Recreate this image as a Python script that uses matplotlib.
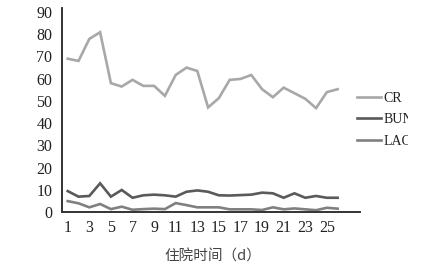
import matplotlib
matplotlib.use("Agg")
import matplotlib.pyplot as plt
from matplotlib.patches import Rectangle

days = list(range(1, 27))
cr = [68.9, 67.9, 77.8, 80.8, 57.9, 56.4, 59.4, 56.7, 56.7, 52.2, 61.6, 64.9, 63.4,
      47.0, 51.2, 59.4, 59.8, 61.6, 55.2, 51.6, 55.9, 53.4, 50.9, 46.7, 53.9, 55.2]
bun = [9.4, 6.9, 7.2, 12.9, 6.9, 9.9, 6.4, 7.5, 7.8, 7.5, 6.9, 9.1, 9.7,
       9.1, 7.5, 7.4, 7.6, 7.8, 8.7, 8.4, 6.4, 8.4, 6.4, 7.2, 6.4, 6.4]
lac = [4.9, 3.9, 2.1, 3.6, 1.3, 2.4, 1.0, 1.3, 1.5, 1.3, 4.0, 3.1, 2.1,
       2.1, 2.1, 1.2, 1.2, 1.2, 0.9, 2.1, 1.2, 1.6, 1.2, 0.8, 1.9, 1.5]
series_names = ["CR", "BUN", "LAC"]
xticks = list(range(1, 26, 2))
yticks = list(range(0, 91, 10))
xlabel = "住院时间（d）"

W, H = 429, 271
fig = plt.figure(figsize=(W / 100, H / 100), dpi=100)
fig.patch.set_facecolor("white")
ax = fig.add_axes([62 / W, 1 - 212 / H, (360 - 62) / W, (212 - 8) / H])

colors = ["#a8a8a8", "#5a5a5a", "#808080"]
lines = []
for vals, name, c in zip([cr, bun, lac], series_names, colors):
    ln, = ax.plot(days, vals, color=c, lw=1.9, label=name, solid_joinstyle="miter")
    lines.append(ln)

ax.set_xlim(0.47, 28.07)
ax.set_ylim(0, 91.7)
ax.set_xticks(xticks)
ax.set_yticks(yticks)
for s in ["top", "right"]:
    ax.spines[s].set_visible(False)
for s in ["left", "bottom"]:
    ax.spines[s].set_color("#333333")
    ax.spines[s].set_linewidth(1.4)
ax.tick_params(axis="y", length=0, pad=7, labelsize=11.5, colors="#222222")
ax.tick_params(axis="x", length=0, pad=6, labelsize=11.5, colors="#222222")
for lab in ax.get_xticklabels() + ax.get_yticklabels():
    lab.set_fontfamily("Liberation Serif")

fig.text(213 / W, 1 - 257 / H, xlabel, ha="center", va="center",
         fontsize=10.5, color="#444444",
         family=["Noto Sans CJK SC", "DejaVu Sans"])

leg = fig.legend(handles=lines, labels=series_names, loc="upper left",
                 bbox_to_anchor=(357 / W, 1 - 92 / H), frameon=False,
                 prop={"family": "Liberation Serif", "size": 10},
                 handlelength=1.75, handletextpad=0.15, labelspacing=0.6,
                 borderaxespad=0, borderpad=0)
for t in leg.get_texts():
    t.set_color("#222222")

fig.patches.append(Rectangle((408 / W, 0), 1, 1, transform=fig.transFigure,
                             facecolor="white", edgecolor="none", zorder=10))

fig.savefig("out.png", dpi=100)
